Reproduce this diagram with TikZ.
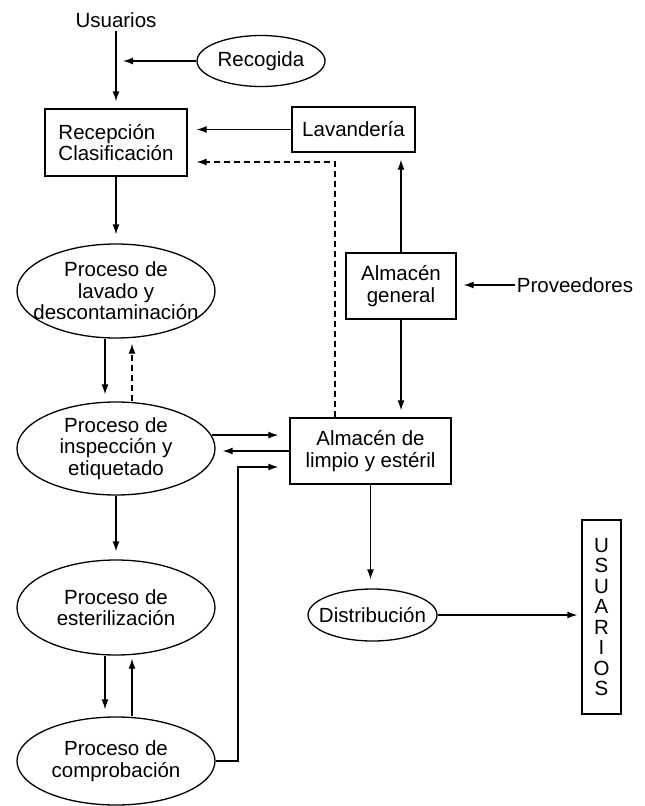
\documentclass[tikz,border=0pt]{standalone}
\usepackage{fontspec}
\setmainfont{Liberation Sans}
\usetikzlibrary{arrows.meta,shapes.geometric}
\begin{document}
\begin{tikzpicture}[x=1pt,y=-1pt,
  txt/.style={font=\fontsize{20.5}{21.5}\selectfont, align=center, inner sep=0pt},
  box/.style={txt, draw, line width=1.3pt, inner sep=0pt},
  proc/.style={draw, ellipse, inner sep=0pt, line width=1.3pt},
  arr/.style={-{Latex[length=10pt,width=7pt]}, line width=1.3pt, shorten >=7pt},
  dsh/.style={arr, dash pattern=on 6pt off 4pt}]
\useasboundingbox (0,0) rectangle (645,806);

% nodes
\node[txt] (usu) at (116,20) {Usuarios};
\node[proc, minimum width=128pt, minimum height=51pt] (recog) at (261,61) {};
\node[txt] (recogt) at (recog) {Recogida};
\node[box, align=left, minimum width=142pt, minimum height=67pt] (recep) at (116,142.5) {Recepción\\Clasificación};
\node[box, minimum width=123pt, minimum height=45pt] (lavd) at (353.5,129.5) {Lavandería};
\node[box, minimum width=110pt, minimum height=66pt] (gen) at (401,286) {Almacén\\general};
\node[txt, inner sep=2pt] (prov) at (575,285) {Proveedores};
\node[box, minimum width=161pt, minimum height=66pt] (lim) at (370.5,451) {Almacén de\\limpio y estéril};
\node[proc, minimum width=129pt, minimum height=52pt] (dist) at (372.5,615) {};
\node[txt] (distt) at (dist) {Distribución};
\node[box, font=\fontsize{20.5}{20.5}\selectfont, minimum width=39pt, minimum height=194pt] (usr) at (601.5,617) {U\\S\\U\\A\\R\\I\\O\\S};

\node[proc, minimum width=198pt, minimum height=94pt] (lav) at (116,291) {};
\node[txt] (lavt) at (lav) {Proceso de\\lavado y\\descontaminación};
\node[proc, minimum width=198pt, minimum height=93pt] (insp) at (116,448.5) {};
\node[txt] (inspt) at (insp) {Proceso de\\inspección y\\etiquetado};
\node[proc, minimum width=198pt, minimum height=95pt] (est) at (116,607.5) {};
\node[txt] (estt) at (est) {Proceso de\\esterilización};
\node[proc, minimum width=198pt, minimum height=88pt] (comp) at (116,761) {};
\node[txt] (compt) at (comp) {Proceso de\\comprobación};

\coordinate (d1) at (335,162);
\coordinate (c1) at (238,467);

% connectors
\draw[arr, shorten <=3pt] (usu.south) -- (recep.north);
\draw[arr] (recog.west) -- (recog.west -| usu.south);
\draw[arr, shorten >=9pt] (lavd.west) -- (lavd.west -| recep.east);
\draw[dsh, shorten >=9pt] (d1 |- lim.north) -- (d1) -- (d1 -| recep.east);
\draw[arr] (gen.north) -- (gen.north |- lavd.south);
\draw[arr] (prov.west) -- (prov.west -| gen.east);
\draw[arr] (gen.south) -- (gen.south |- lim.north);
\draw[arr, shorten >=9pt] (lim.south) -- (lim.south |- dist.north);
\draw[arr, shorten >=4pt] (dist.east) -- (dist.east -| usr.west);

\draw[arr, shorten >=9pt] (recep.south) -- (lav.north);
\draw[arr] ([xshift=-11pt]lav.south) -- ([xshift=-11pt]insp.north);
\draw[dsh, shorten >=5pt] ([xshift=16pt]insp.north) -- ([xshift=16pt]lav.south);
\draw[arr, shorten >=11pt] (insp.8) -- (insp.8 -| lim.west);
\draw[arr] (lim.west) -- (lim.west -| insp.east);
\draw[arr, shorten >=8pt] (recep.south |- insp.south) -- (est.north);
\draw[arr] ([xshift=-11pt]est.south) -- ([xshift=-11pt]comp.north);
\draw[arr, shorten >=3pt] ([xshift=16pt]comp.north) -- ([xshift=16pt]est.south);
\draw[arr, shorten >=11pt] (comp.east) -| (c1) -- (c1 -| lim.west);
\end{tikzpicture}
\end{document}
